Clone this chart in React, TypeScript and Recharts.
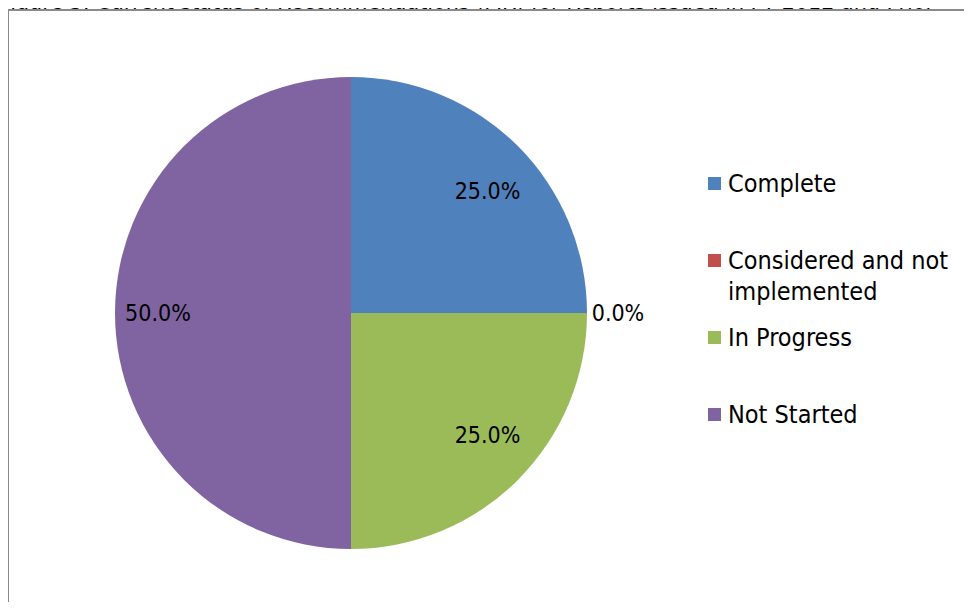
import React from 'react';
import { PieChart, Pie, Cell, Legend } from 'recharts';

const categories = ['Complete', 'Considered and not implemented', 'In Progress', 'Not Started'];
const values = [25, 0, 25, 50];
const colors = ['#4F81BD', '#C0504D', '#9BBB59', '#8064A2'];
const titleText = 'Figure 3: Current status of Recommendations (MR) for Reports Issued in FY 2012 and Prior';

const data = categories.map((name, i) => ({ name, value: values[i] }));

const FONT = '"DejaVu Sans Condensed", "DejaVu Sans", sans-serif';
const RAD = Math.PI / 180;

const renderLabel = (props: any) => {
  const { cx, cy, midAngle, outerRadius, percent } = props;
  const rx = percent === 0 ? outerRadius + 31 : outerRadius * 0.818;
  const ry = percent === 0 ? outerRadius + 31 : outerRadius * 0.733;
  const x = cx + rx * Math.cos(-midAngle * RAD);
  const y = cy + ry * Math.sin(-midAngle * RAD);
  return (
    <text x={x} y={y} textAnchor="middle" dominantBaseline="central" fill="#000" fontSize={23} fontFamily={FONT}>
      {(percent * 100).toFixed(1) + '%'}
    </text>
  );
};

const renderLegend = () => (
  <div style={{ fontFamily: FONT, fontSize: 25, lineHeight: '31px', color: '#000' }}>
    {data.map((d, i) => (
      <div key={d.name} style={{ display: 'flex', alignItems: 'flex-start', height: 77 }}>
        <div style={{ width: 13, height: 13, background: colors[i], marginTop: 9, marginRight: 7, flexShrink: 0 }} />
        <div style={{ width: 240 }}>{d.name}</div>
      </div>
    ))}
  </div>
);

export default function App() {
  return (
    <div style={{ position: 'relative', width: 972, height: 610, margin: -8, overflow: 'hidden', background: '#fff' }}>
      <div style={{ position: 'absolute', left: 0, top: -12, whiteSpace: 'nowrap', fontFamily: FONT, fontSize: 23, lineHeight: '26px', color: '#000' }}>
        {titleText}
      </div>
      <div style={{ position: 'absolute', left: 7, top: 9, width: 1100, height: 800, borderTop: '2px solid #8a8a8a', borderLeft: '2px solid #8a8a8a', background: '#fff' }} />
      <div style={{ position: 'absolute', left: 0, top: 0 }}>
        <PieChart width={972} height={610} margin={{ top: 0, right: 0, bottom: 0, left: 0 }}>
          <Pie
            data={data}
            dataKey="value"
            nameKey="name"
            cx={351}
            cy={313}
            outerRadius={236}
            startAngle={90}
            endAngle={-270}
            stroke="none"
            label={renderLabel}
            labelLine={false}
            isAnimationActive={false}
          >
            {data.map((d, i) => (
              <Cell key={d.name} fill={colors[i]} />
            ))}
          </Pie>
          <Legend
            layout="vertical"
            content={renderLegend}
            wrapperStyle={{ left: 708, top: 168, width: 260 }}
          />
        </PieChart>
      </div>
    </div>
  );
}
